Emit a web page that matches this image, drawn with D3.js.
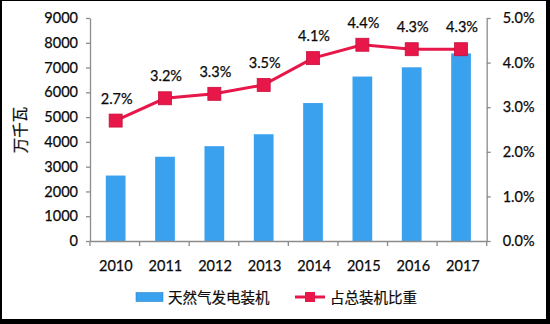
<!DOCTYPE html>
<html>
<head>
<meta charset="utf-8">
<script src="https://cdn.jsdelivr.net/npm/d3@7"></script>
<style>
  html, body { margin: 0; padding: 0; background: #fff; }
  svg { display: block; }
  text { font-family: Lato, "Noto Sans", sans-serif; fill: #0a0a0a; stroke: #0a0a0a; stroke-width: 0.25px; }
  .cjk { font-family: "Noto Sans CJK SC", sans-serif; stroke-width: 0.2px; }
</style>
</head>
<body>
<svg id="chart" width="550" height="324"></svg>
<script>
// Natural-gas power capacity (10k kW) and its share of total installed capacity
const years = ["2010", "2011", "2012", "2013", "2014", "2015", "2016", "2017"];
const capacity = [2642, 3400, 3827, 4309, 5567, 6637, 7011, 7570];
const share = [2.7, 3.2, 3.3, 3.5, 4.1, 4.4, 4.3, 4.3];
const leftTicks = [0, 1000, 2000, 3000, 4000, 5000, 6000, 7000, 8000, 9000];
const rightTicks = [0, 1, 2, 3, 4, 5];
const seriesNames = ["天然气发电装机", "占总装机比重"];

const barColor = "#3aa1ee";
const lineColor = "#e8174a";
const axisColor = "#8c8c8c";

const svg = d3.select("#chart");
const W = 550, H = 324;

// frame with a heavier bottom/right edge
svg.append("rect").attr("x", 0).attr("y", 0).attr("width", W).attr("height", H).attr("fill", "#000");
svg.append("rect").attr("x", 2).attr("y", 1).attr("width", W - 6).attr("height", H - 6).attr("fill", "#fff");

const plot = { left: 90, right: 486.7, top: 18, bottom: 241 };

const x = d3.scaleBand().domain(years).range([plot.left, plot.right]).paddingInner(0.6).paddingOuter(0.32);
const xOuter = d3.scaleBand().domain(years).range([plot.left, plot.right]);
const yL = d3.scaleLinear().domain([0, 9000]).range([plot.bottom, plot.top]);
const yR = d3.scaleLinear().domain([0, 5]).range([plot.bottom, plot.top]);

// bars
svg.append("g").selectAll("rect").data(years).join("rect")
  .attr("x", d => x(d))
  .attr("width", x.bandwidth())
  .attr("y", (d, i) => yL(capacity[i]))
  .attr("height", (d, i) => plot.bottom - yL(capacity[i]))
  .attr("fill", barColor);

// axes
function styleAxis(g) {
  g.selectAll(".domain").attr("stroke", axisColor).attr("stroke-width", 1.3);
  g.selectAll(".tick line").attr("stroke", axisColor).attr("stroke-width", 1.3);
  g.selectAll(".tick text").attr("font-size", 14.5);
}

const gL = svg.append("g").attr("transform", `translate(${plot.left},0)`)
  .call(d3.axisLeft(yL).tickValues(leftTicks).tickSize(4).tickPadding(8).tickSizeOuter(0).tickFormat(d3.format("d")));
styleAxis(gL);

const gR = svg.append("g").attr("transform", `translate(${plot.right},0)`)
  .call(d3.axisRight(yR).tickValues(rightTicks).tickSize(4).tickPadding(12).tickSizeOuter(0).tickFormat(d => d.toFixed(1) + "%"));
styleAxis(gR);

const gX = svg.append("g").attr("transform", `translate(0,${plot.bottom})`)
  .call(d3.axisBottom(xOuter).tickSize(0).tickPadding(20).tickSizeOuter(0));
styleAxis(gX);
gX.selectAll(".tick text").attr("dx", 1);
// tick marks sit on the category boundaries
gX.selectAll(".boundary").data(d3.range(years.length + 1)).join("line")
  .attr("x1", i => plot.left + i * xOuter.step())
  .attr("x2", i => plot.left + i * xOuter.step())
  .attr("y1", 0).attr("y2", 5)
  .attr("stroke", axisColor).attr("stroke-width", 1.3);

// y-axis title
svg.append("text").attr("class", "cjk")
  .attr("transform", "translate(26,130) rotate(-90)")
  .attr("text-anchor", "middle").attr("font-size", 15.5)
  .text("万千瓦");

// share line
const cx = d => x(d) + x.bandwidth() / 2;
const line = d3.line().x((d, i) => cx(years[i])).y(d => yR(d));
svg.append("path").datum(share).attr("d", line)
  .attr("fill", "none").attr("stroke", lineColor).attr("stroke-width", 3);

const mk = 13;
svg.append("g").selectAll("rect").data(share).join("rect")
  .attr("x", (d, i) => cx(years[i]) - mk / 2)
  .attr("y", d => yR(d) - mk / 2)
  .attr("width", mk).attr("height", mk)
  .attr("fill", lineColor).attr("stroke", "#c8103c").attr("stroke-width", 0.8);

svg.append("g").selectAll("text").data(share).join("text")
  .attr("x", (d, i) => cx(years[i]) + 1)
  .attr("y", d => yR(d) - 17)
  .attr("text-anchor", "middle").attr("font-size", 14.5)
  .text(d => d.toFixed(1) + "%");

// legend
const lg = svg.append("g");
lg.append("rect").attr("x", 136).attr("y", 292.5).attr("width", 27).attr("height", 9)
  .attr("fill", barColor).attr("stroke", "#2b86cc").attr("stroke-width", 0.6);
lg.append("text").attr("class", "cjk").attr("x", 168).attr("y", 302.5).attr("font-size", 14.5).text(seriesNames[0]);
lg.append("line").attr("x1", 295).attr("x2", 325).attr("y1", 297).attr("y2", 297)
  .attr("stroke", lineColor).attr("stroke-width", 3);
lg.append("rect").attr("x", 305).attr("y", 292).attr("width", 10).attr("height", 10)
  .attr("fill", lineColor);
lg.append("text").attr("class", "cjk").attr("x", 330).attr("y", 302.5).attr("font-size", 14.5).text(seriesNames[1]);
</script>
</body>
</html>
